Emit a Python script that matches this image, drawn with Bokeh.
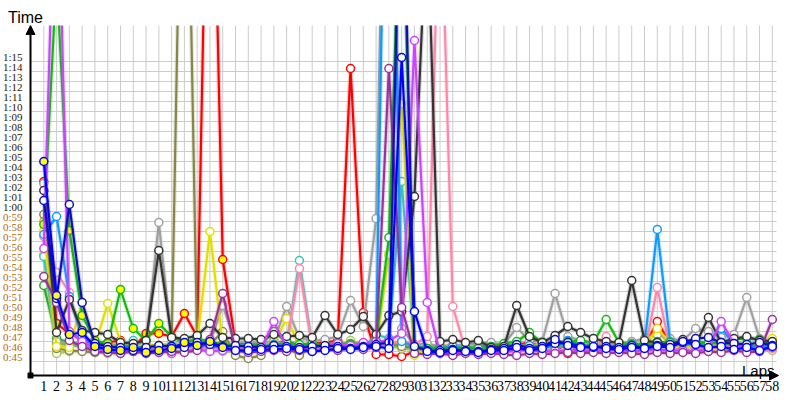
from bokeh.plotting import figure
from bokeh.models import Range1d, Arrow, NormalHead, ColumnDataSource
from bokeh.core.properties import value
from bokeh.embed import file_html
from bokeh.resources import INLINE

laps = list(range(1, 59))
tick_seconds = list(range(45, 76))
tick_labels = [f"{s // 60}:{s % 60:02d}" for s in tick_seconds]
lap_labels = [str(l) for l in laps]

red = [62.5, 48.3, 47.3, 46.7, 46.2, 46.4, 46.6, 45.8, 47.3, 47.3,
       47.0, 49.3, 47.0, 112.0, 54.7, 46.3, 46.2, 46.3, 46.3, 46.5,
       46.1, 46.3, 46.4, 46.6, 73.8, 49.4, 45.2, 45.2, 45.0, 45.5,
       45.9, 46.0, 46.1, 45.9, 46.0, 46.1, 46.0, 46.2, 46.4, 46.0,
       46.0, 45.3, 46.0, 46.1, 46.0, 45.9, 46.1, 46.0, 48.5, 46.3,
       46.6, 46.0, 46.2, 46.1, 46.2, 45.9, 46.0, 46.1]
green = [58.2, 83.0, 57.6, 49.1, 46.6, 46.3, 51.7, 47.8, 46.6, 48.3,
         47.0, 46.4, 46.8, 46.5, 46.2, 46.1, 46.0, 46.2, 47.5, 46.4,
         46.2, 46.3, 46.0, 46.4, 46.2, 46.3, 46.6, 56.9, 96.0, 46.0,
         45.8, 45.9, 45.7, 45.9, 45.8, 46.0, 46.3, 46.5, 47.4, 46.4,
         46.3, 46.5, 46.6, 46.4, 48.7, 46.4, 46.2, 46.3, 46.5, 46.4,
         46.5, 46.6, 46.3, 46.4, 46.7, 46.8, 46.7, 46.2]
green2 = [52.1, 46.8, 46.4, 46.1, 45.9, 46.0, 45.8, 45.9, 46.1, 46.0,
          45.9, 46.1, 46.0, 46.2, 46.0, 45.9, 46.1, 46.0, 46.2, 46.3,
          46.1, 46.0, 46.2, 46.1, 46.0, 46.2, 46.3, 46.1, 46.0, 45.9,
          45.8, 45.9, 46.0, 45.8, 45.9, 46.1, 46.0, 45.9, 46.1, 46.0,
          46.2, 46.1, 46.0, 46.2, 46.1, 46.0, 46.2, 46.1, 46.3, 46.2,
          46.1, 46.2, 46.0, 46.1, 46.3, 46.2, 46.1, 46.0]
blue = [64.5, 51.1, 47.2, 47.4, 46.0, 45.7, 45.6, 45.9, 45.4, 45.6,
        45.8, 46.4, 46.1, 46.5, 45.9, 45.6, 45.6, 45.7, 45.7, 45.8,
        45.7, 45.5, 45.6, 45.8, 45.7, 45.9, 46.0, 45.8, 74.9, 49.5,
        45.5, 45.4, 45.6, 45.5, 45.4, 45.6, 45.6, 45.9, 45.6, 45.8,
        46.7, 46.1, 45.9, 46.0, 45.8, 45.7, 45.9, 45.8, 46.0, 45.9,
        46.5, 46.2, 45.9, 46.0, 45.7, 45.9, 45.6, 46.0]
navy = [60.6, 50.8, 60.2, 50.4, 46.3, 46.0, 45.9, 45.6, 45.9, 46.1,
        46.0, 45.9, 46.4, 46.2, 46.0, 46.1, 46.0, 45.9, 46.1, 46.0,
        45.9, 46.0, 46.1, 46.0, 45.8, 46.0, 46.2, 46.4, 100.0, 46.0,
        45.6, 45.6, 45.7, 45.6, 45.5, 45.7, 45.8, 46.2, 45.8, 46.0,
        46.3, 46.4, 46.0, 45.9, 46.0, 45.9, 46.1, 45.9, 46.1, 46.2,
        46.4, 46.8, 46.9, 46.4, 46.3, 46.2, 46.4, 46.1]
violet = [55.8, 100.0, 47.5, 46.5, 45.8, 45.6, 45.7, 45.5, 45.4, 45.6,
          45.3, 45.5, 45.7, 45.5, 45.6, 45.7, 45.6, 45.8, 48.5, 45.9,
          45.8, 45.9, 46.0, 46.3, 46.1, 46.4, 46.5, 46.6, 47.3, 76.6,
          50.4, 45.4, 45.3, 45.4, 45.5, 45.4, 45.5, 45.6, 45.7, 45.5,
          45.6, 45.5, 45.6, 45.5, 45.6, 45.7, 45.5, 45.6, 45.7, 45.6,
          45.6, 45.5, 45.8, 48.5, 46.3, 45.8, 45.7, 45.9]
sky = [57.2, 59.0, 51.0, 47.0, 46.0, 45.8, 46.1, 46.0, 45.9, 46.0,
       46.1, 46.0, 46.2, 46.0, 45.9, 46.0, 46.1, 46.0, 46.2, 46.3,
       46.0, 46.1, 46.0, 46.2, 46.1, 46.0, 46.3, 120.0, 46.5, 46.0,
       45.8, 45.9, 46.0, 45.8, 45.9, 46.0, 46.2, 46.0, 46.1, 45.9,
       46.1, 46.6, 46.2, 46.0, 46.1, 46.0, 46.3, 46.2, 57.7, 46.5,
       46.3, 46.2, 46.4, 47.8, 46.3, 46.2, 45.9, 46.4]
pink = [57.0, 53.4, 51.4, 46.4, 46.0, 45.9, 46.0, 45.8, 45.9, 45.8,
        45.9, 46.0, 45.8, 45.9, 45.7, 45.8, 45.9, 45.8, 46.0, 46.2,
        53.8, 46.0, 45.9, 46.0, 45.9, 45.8, 46.1, 46.3, 46.5, 46.2,
        47.0, 95.0, 50.0, 45.6, 45.5, 45.6, 45.4, 45.5, 45.6, 45.5,
        45.4, 45.6, 45.5, 45.7, 47.0, 45.6, 45.5, 45.4, 51.9, 45.8,
        45.7, 45.6, 45.8, 45.9, 46.0, 45.8, 45.7, 45.8]
yellow = [57.6, 46.0, 45.9, 50.4, 46.1, 50.3, 46.5, 46.0, 46.2, 46.1,
          46.3, 46.0, 46.4, 57.5, 46.2, 46.1, 46.0, 46.1, 46.3, 48.8,
          46.1, 45.8, 45.7, 45.9, 45.8, 45.9, 46.0, 55.2, 70.3, 45.1,
          45.8, 45.9, 45.7, 45.8, 45.9, 46.0, 45.9, 46.1, 46.0, 46.2,
          46.7, 46.3, 46.1, 46.0, 46.2, 46.1, 46.3, 46.0, 47.8, 46.4,
          45.8, 46.1, 46.2, 46.0, 45.9, 46.3, 46.1, 46.8]
black = [61.6, 47.4, 50.7, 47.6, 47.4, 47.2, 46.4, 46.3, 46.6, 55.6,
         46.9, 46.8, 47.1, 48.3, 46.9, 46.8, 46.8, 46.7, 47.2, 47.0,
         47.1, 46.9, 49.1, 47.2, 47.7, 49.0, 47.2, 49.1, 49.5, 61.0,
         90.0, 46.5, 46.7, 46.4, 46.6, 45.9, 46.0, 50.1, 47.0, 46.4,
         47.1, 48.0, 47.4, 46.8, 46.5, 46.4, 52.6, 46.6, 46.4, 46.1,
         46.7, 46.2, 48.9, 46.4, 46.8, 47.0, 46.6, 46.5]
gray = [62.3, 46.5, 46.3, 46.2, 46.0, 46.1, 46.0, 45.9, 46.2, 58.4,
        46.4, 46.6, 46.5, 46.3, 50.1, 46.4, 46.5, 46.3, 46.6, 50.0,
        46.8, 46.6, 46.7, 47.0, 50.6, 48.0, 58.8, 120.0, 47.8, 46.2,
        46.3, 46.0, 46.1, 46.2, 46.3, 46.4, 46.2, 47.9, 46.6, 46.5,
        51.3, 47.0, 46.6, 46.2, 46.4, 46.3, 46.5, 46.8, 47.2, 46.8,
        46.6, 47.8, 47.5, 46.9, 47.2, 50.9, 46.8, 46.6]
olive = [59.2, 45.8, 45.6, 45.5, 45.4, 45.6, 45.5, 45.7, 45.6, 45.8,
         46.2, 115.0, 46.0, 46.2, 47.5, 45.1, 44.8, 45.1, 46.3, 46.0,
         45.1, 46.0, 45.7, 45.9, 46.3, 46.0, 46.2, 46.5, 46.0, 45.8,
         45.9, 45.8, 45.7, 45.8, 45.9, 46.0, 45.9, 45.8, 46.0, 46.1,
         45.9, 46.0, 45.8, 45.9, 46.1, 46.0, 45.9, 46.0, 46.2, 46.1,
         46.0, 45.9, 46.1, 46.0, 45.9, 46.1, 46.0, 45.9]
light_olive = [55.2, 45.3, 45.5, 45.6, 45.4, 45.3, 45.3, 45.6, 45.4, 45.5,
               45.6, 45.5, 45.7, 45.6, 45.5, 45.4, 45.6, 45.5, 46.2, 46.0,
               45.9, 46.2, 46.0, 45.8, 46.6, 46.2, 46.1, 46.0, 45.8, 45.6,
               45.5, 45.6, 45.4, 45.5, 45.6, 45.5, 45.7, 45.6, 45.5, 45.6,
               45.7, 45.6, 45.5, 45.6, 45.7, 45.6, 45.5, 45.7, 45.6, 45.5,
               45.6, 45.7, 45.5, 45.6, 45.7, 45.6, 45.5, 45.6]
cyan = [55.0, 46.4, 46.2, 46.0, 46.1, 45.9, 46.2, 46.6, 46.0, 45.7,
        45.8, 46.0, 45.9, 46.1, 46.0, 46.2, 46.1, 46.0, 46.3, 46.2,
        54.6, 46.0, 45.9, 46.1, 46.0, 45.8, 47.2, 46.8, 62.5, 46.0,
        45.8, 46.0, 45.9, 45.8, 46.0, 46.1, 45.9, 46.0, 45.8, 45.9,
        46.0, 46.2, 46.1, 45.9, 46.0, 46.1, 46.0, 45.9, 46.1, 46.0,
        46.1, 46.0, 45.9, 46.1, 46.0, 45.9, 46.1, 46.0]
purple = [53.0, 50.4, 46.6, 46.0, 45.5, 45.4, 45.3, 45.5, 45.3, 45.4,
          45.5, 45.4, 45.6, 46.7, 51.3, 45.6, 45.4, 45.5, 45.6, 45.5,
          45.6, 45.5, 45.7, 45.6, 45.8, 45.7, 45.9, 73.8, 49.9, 45.3,
          45.2, 45.3, 45.1, 45.3, 45.2, 45.3, 45.2, 45.1, 45.3, 45.2,
          45.3, 45.4, 45.3, 45.4, 45.3, 45.4, 45.3, 45.2, 45.4, 45.3,
          45.4, 45.3, 45.5, 45.4, 45.6, 45.4, 45.5, 48.7]
orange = [58.5, 46.3, 46.1, 46.0, 45.9, 46.1, 46.3, 46.2, 46.0, 46.1,
          46.2, 46.0, 46.1, 46.3, 46.2, 46.0, 46.1, 46.2, 46.4, 46.3,
          46.1, 46.2, 46.0, 46.1, 46.3, 46.2, 46.4, 46.3, 46.5, 45.9,
          45.9, 46.0, 46.1, 45.9, 46.0, 46.2, 46.1, 46.0, 46.2, 46.1,
          46.3, 46.2, 46.1, 46.0, 46.2, 46.1, 46.3, 46.2, 47.6, 46.2,
          46.1, 46.3, 46.2, 46.4, 46.3, 46.1, 46.2, 46.0]

series = [
    ("red", "#ff0000", red),
    ("orange", "#ff9900", orange),
    ("green2", "#22aa22", green2),
    ("light_olive", "#a8c860", light_olive),
    ("olive", "#86864a", olive),
    ("cyan", "#33c4c4", cyan),
    ("gray", "#a0a0a0", gray),
    ("yellow", "#e0e000", yellow),
    ("pink", "#ff88aa", pink),
    ("sky", "#1199ff", sky),
    ("green", "#11bb11", green),
    ("black", "#333333", black),
    ("violet", "#cc44ff", violet),
    ("purple", "#993399", purple),
    ("navy", "#1010b0", navy),
    ("blue", "#0000ff", blue),
]
highlighted = {"red", "green", "blue"}

# pixel <-> data mapping (frame spans x 0..800, y 25..400 of the page)
LAP1_PX, PX_PER_LAP = 43.3, 12.781
S45_PX, PX_PER_S = 356.0, 10.0


def dx(px):
    return 1 + (px - LAP1_PX) / PX_PER_LAP


def dy(py):
    return 45 + (S45_PX - py) / PX_PER_S


AX_L, AX_R, AX_T, AX_B = 30, 778, 25, 375

p = figure(width=800, height=400, x_range=Range1d(dx(0), dx(800)),
           y_range=Range1d(dy(400), dy(AX_T)), output_backend="svg",
           toolbar_location=None, title="Time")
p.min_border_left = 0
p.min_border_right = 0
p.min_border_bottom = 0
p.min_border_top = AX_T
p.title.align = "left"
p.title.offset = 7.5
p.title.standoff = 0
p.title.text_font = "Liberation Sans"
p.title.text_font_size = "16px"
p.title.text_font_style = "normal"
p.title.text_color = "#000000"
p.outline_line_color = None
p.xaxis.visible = False
p.yaxis.visible = False
p.grid.visible = False

grid_col = "#cccccc"
# vertical grid (one per lap)
p.segment(x0=laps, y0=[dy(AX_B)] * len(laps), x1=laps, y1=[dy(AX_T)] * len(laps),
          line_color=grid_col, line_width=1)
# horizontal grid (between second labels)
gy = [s - 0.5 for s in tick_seconds]
p.segment(x0=[dx(AX_L)] * len(gy), y0=gy, x1=[dx(776)] * len(gy), y1=gy,
          line_color=grid_col, line_width=1)

for name, color, vals in series:
    fills = ["#ffff00" if (name in highlighted and lap <= 15) else "white" for lap in laps]
    src = ColumnDataSource(dict(x=laps, y=vals, f=fills))
    p.line("x", "y", source=src, line_color=color, line_width=4.5, line_alpha=0.2)
    p.line("x", "y", source=src, line_color=color, line_width=2.2)
    p.scatter("x", "y", source=src, marker="circle", size=8, line_color=color,
              line_width=1.5, fill_color="f")

# axes
p.add_layout(Arrow(x_start=dx(AX_L), y_start=dy(AX_B), x_end=dx(AX_L), y_end=dy(AX_T),
                   line_width=2, line_color="black",
                   end=NormalHead(size=9, fill_color="black", line_color="black")))
p.add_layout(Arrow(x_start=dx(AX_L), y_start=dy(AX_B), x_end=dx(AX_R), y_end=dy(AX_B),
                   line_width=2, line_color="black",
                   end=NormalHead(size=9, fill_color="black", line_color="black")))
p.scatter([dx(AX_L)], [dy(AX_B)], marker="square", size=5, fill_color="black",
          line_color="black")

# y tick labels
ycols = ["#b86a00" if s < 60 else "#2a1500" for s in tick_seconds]
p.text(x=[dx(22)] * len(tick_seconds), y=tick_seconds, text=tick_labels,
       text_align="right", text_baseline="middle", text_color=ycols,
       text_font=value("Liberation Serif"), text_font_size="11px")
# x tick labels
p.text(x=laps, y=[dy(380)] * len(laps), text=lap_labels, text_align="center",
       text_baseline="top", text_color="#000000",
       text_font=value("Liberation Serif"), text_font_size="14px")

p.text(x=[dx(774)], y=[dy(370)], text=["Laps"], text_align="right",
       text_baseline="alphabetic", text_color="#000000",
       text_font=value("Liberation Sans"), text_font_size="15px")

open("out.html", "w").write(file_html(p, INLINE))
